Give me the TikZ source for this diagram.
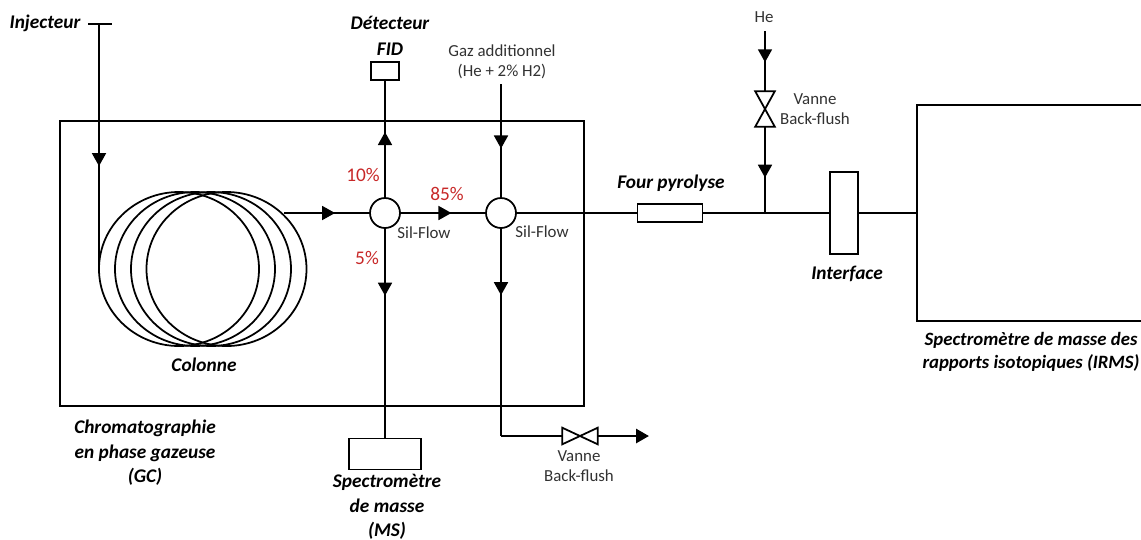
\documentclass[tikz,border=0pt]{standalone}
\usepackage{fontspec}
\setmainfont{Carlito}
\usepackage{xcolor}
\usetikzlibrary{shapes,arrows.meta,positioning,calc,decorations.markings}
\definecolor{pctred}{RGB}{200,40,40}
\definecolor{notegrey}{RGB}{50,50,50}

\begin{document}
\begin{tikzpicture}[x=0.02cm, y=-0.02cm,
    wire/.style={draw=black, line width=1pt},
    unit/.style={rectangle, wire, fill=white, inner sep=0pt},
    split/.style={circle, wire, fill=white, minimum size=0.6cm, inner sep=0pt},
    valve/.style={rectangle, inner sep=0pt, minimum width=#1},
    title/.style={font=\fontsize{11}{13}\selectfont\bfseries\itshape, align=center, inner sep=0pt},
    note/.style={font=\fontsize{9.6}{11.5}\selectfont, text=notegrey, align=center, inner sep=0pt},
    pct/.style={font=\fontsize{11}{11}\selectfont, text=pctred, inner sep=0pt},
    flow/.style={postaction={decorate}, decoration={markings,
        mark=at position #1 with {
            \draw[line width=1.6pt] (-#1*\pgfdecoratedpathlength,0pt) -- (-1mm,0pt);
            \arrow{Triangle[length=2.6mm, width=2.8mm]}}}}
]
    \useasboundingbox (0,0) rectangle (1141,539);

    % oven and IRMS
    \node[unit, minimum width=10.48cm, minimum height=5.7cm] (gc) at (322,263.5) {};
    \draw[wire] (1141,105) -- (917,105) -- (917,321) -- (1141,321);

    % column
    \foreach \cx in {179,195,211,226.5}
        \draw[wire] (\cx,269) ellipse (80 and 77);

    % units
    \node[split] (sf1) at (385,213) {};
    \node[split] (sf2) at (501,213) {};
    \node[unit, minimum width=0.56cm, minimum height=0.36cm] (fid) at (385,71) {};
    \node[unit, minimum width=1.44cm, minimum height=0.62cm] (ms) at (385,454) {};
    \node[unit, minimum width=1.3cm, minimum height=0.36cm] (four) at (670,213) {};
    \node[unit, minimum width=0.56cm, minimum height=1.64cm] (iface) at (844,213) {};
    \node[valve=0.38cm, minimum height=0.7cm] (vhe) at (765,109) {};
    \node[valve=0.7cm, minimum height=0.32cm] (vbf) at (580,436) {};

    % valve bodies
    \draw[wire] (vhe.north west) -- (vhe.north east) -- (vhe.south west) -- (vhe.south east) -- cycle;
    \draw[wire] (vbf.north west) -- (vbf.south west) -- (vbf.north east) -- (vbf.south east) -- cycle;

    % free ends
    \coordinate (inj) at (99,24);
    \coordinate (injl) at (88,24);
    \coordinate (injr) at (112,24);
    \coordinate (coilin) at (99,269);
    \coordinate (coilout) at (284,213);
    \coordinate (gaz) at (501,84);
    \coordinate (he) at (765,31);
    \coordinate (tee) at (765,213);
    \coordinate (corner) at (501,436);
    \coordinate (vent) at (649,436);
    \coordinate (irms) at (917,213);

    % lines
    \draw[wire] (injl) -- (injr);
    \draw[wire, flow=0.58] (inj) -- (coilin);
    \draw[wire, flow=0.6] (coilout) -- (sf1);
    \draw[wire, flow=0.56] (sf1) -- (fid);
    \draw[wire, flow=0.6] (sf1) -- (sf2);
    \draw[wire, flow=0.32] (sf1) -- (ms);
    \draw[wire, flow=0.57] (gaz) -- (sf2);
    \draw[wire, flow=0.32] (sf2) -- (corner);
    \draw[wire] (corner) -- (vbf);
    \draw[line width=1.6pt, -{Triangle[length=2.6mm, width=2.8mm]}] (vbf) -- (vent);
    \draw[wire] (sf2) -- (four);
    \draw[wire] (four) -- (iface);
    \draw[wire] (iface) -- (irms);
    \draw[wire, flow=0.52] (he) -- (vhe);
    \draw[wire, flow=0.59] (vhe) -- (tee);

    % labels
    \node[title] (tinj) at (45,23) {Injecteur};
    \node[title] (tdet) at (390,36) {Détecteur\\[2pt]FID};
    \node[note] (tgaz) at (502,62) {Gaz additionnel\\(He + 2\% H2)};
    \node[note] (the) at (764,17) {He};
    \node[note] (tvhe) at (815,109) {Vanne\\Back-flush};
    \node[title] (tfour) at (671,183) {Four pyrolyse};
    \node[title] (tiface) at (847,274) {Interface};
    \node[title, font=\fontsize{10.7}{13}\selectfont\bfseries\itshape] (tirms) at (1031,352) {Spectromètre de masse des\\rapports isotopiques (IRMS)};
    \node[title] (tcol) at (204,365) {Colonne};
    \node[title] (tgc) at (145,453) {Chromatographie\\[1pt]en phase gazeuse\\[1pt](GC)};
    \node[title] (tms) at (387,507) {Spectromètre\\[1pt]de masse\\[1pt](MS)};
    \node[note] (tvbf) at (579,466) {Vanne\\Back-flush};
    \node[note] (tsf1) at (424,233) {Sil-Flow};
    \node[note] (tsf2) at (542,232) {Sil-Flow};
    \node[pct] (p10) at (363,175) {10\%};
    \node[pct] (p5) at (367,258) {5\%};
    \node[pct] (p85) at (447,194) {85\%};
\end{tikzpicture}
\end{document}
